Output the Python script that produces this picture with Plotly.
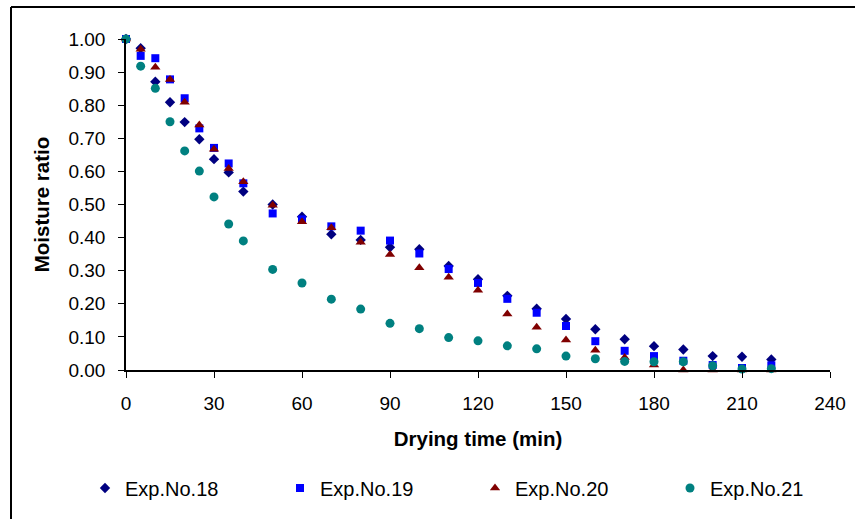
import plotly.graph_objects as go

# ---- data ----
time_min = [0, 5, 10, 15, 20, 25, 30, 35, 40, 50, 60, 70, 80, 90, 100, 110,
            120, 130, 140, 150, 160, 170, 180, 190, 200, 210, 220]

exp18 = [1.00, 0.972, 0.871, 0.809, 0.749, 0.697, 0.637, 0.597, 0.539, 0.500,
         0.463, 0.410, 0.393, 0.371, 0.365, 0.314, 0.274, 0.224, 0.185, 0.154,
         0.123, 0.093, 0.072, 0.062, 0.042, 0.040, 0.032]
exp19 = [1.00, 0.949, 0.942, 0.878, 0.821, 0.730, 0.671, 0.624, 0.564, 0.473,
         0.455, 0.434, 0.421, 0.391, 0.352, 0.305, 0.263, 0.215, 0.173, 0.133,
         0.087, 0.058, 0.042, 0.028, 0.015, 0.006, 0.014]
exp20 = [1.00, 0.969, 0.915, 0.878, 0.809, 0.740, 0.667, 0.609, 0.569, 0.498,
         0.448, 0.430, 0.386, 0.349, 0.309, 0.280, 0.241, 0.169, 0.129, 0.091,
         0.060, 0.038, 0.015, 0.000, 0.000, 0.000, 0.000]
exp21 = [1.00, 0.918, 0.851, 0.750, 0.662, 0.601, 0.523, 0.441, 0.390, 0.304,
         0.263, 0.214, 0.184, 0.141, 0.125, 0.098, 0.088, 0.073, 0.064, 0.042,
         0.034, 0.026, 0.025, 0.025, 0.013, 0.003, 0.004]

series_names = ["Exp.No.18", "Exp.No.19", "Exp.No.20", "Exp.No.21"]
x_ticks = [0, 30, 60, 90, 120, 150, 180, 210, 240]
y_ticks = [0.0, 0.1, 0.2, 0.3, 0.4, 0.5, 0.6, 0.7, 0.8, 0.9, 1.0]

# ---- styles ----
styles = [
    dict(symbol="diamond", color="#000080", size=8),
    dict(symbol="square", color="#0000FF", size=8),
    dict(symbol="triangle-up", color="#800000", size=9),
    dict(symbol="circle", color="#008080", size=9),
]

FONT = "Liberation Sans, Arial, sans-serif"
W, H = 855, 519
L, R, T, B = 126, 25, 39, 149
PW, PH = W - L - R, H - T - B

def px_to_paper_x(px):
    return (px - L) / PW

def px_to_paper_y(py):
    return (H - B - py) / PH

fig = go.Figure()
for name, ys, st in zip(series_names, [exp18, exp19, exp20, exp21], styles):
    fig.add_trace(go.Scatter(
        x=time_min, y=ys, name=name, mode="markers",
        marker=dict(symbol=st["symbol"], color=st["color"], size=st["size"],
                    line=dict(width=0)),
        cliponaxis=False,
    ))

fig.update_layout(
    width=W, height=H,
    margin=dict(l=L, r=R, t=T, b=B, pad=0, autoexpand=False),
    paper_bgcolor="white", plot_bgcolor="white",
    font=dict(family=FONT, size=19, color="black"),
    showlegend=True,
    legend=dict(
        orientation="h",
        x=px_to_paper_x(85), xanchor="left",
        y=px_to_paper_y(488), yanchor="middle",
        entrywidth=150, entrywidthmode="pixels",
        font=dict(family=FONT, size=20, color="black"),
        itemsizing="trace",
        bgcolor="rgba(0,0,0,0)",
    ),
    xaxis=dict(
        range=[0, 240], tickvals=x_ticks, ticktext=[str(v) for v in x_ticks],
        showgrid=False, zeroline=False,
        showline=True, linecolor="black", linewidth=1.5,
        ticks="outside", ticklen=6, tickcolor="black", tickwidth=1,
        ticklabelstandoff=9,
        tickfont=dict(family=FONT, size=19),
        title=dict(text="<b>Drying time (min)</b>", standoff=19,
                   font=dict(family=FONT, size=20.5)),
    ),
    yaxis=dict(
        range=[0, 1], tickvals=y_ticks, ticktext=["%.2f" % v for v in y_ticks],
        showgrid=False, zeroline=False,
        showline=True, linecolor="black", linewidth=1.5,
        ticks="outside", ticklen=6, tickcolor="black", tickwidth=1,
        ticklabelstandoff=9,
        tickfont=dict(family=FONT, size=19),
        title=dict(text="<b>Moisture ratio</b>", standoff=13,
                   font=dict(family=FONT, size=20.5)),
    ),
    shapes=[
        dict(type="line", xref="paper", yref="paper",
             x0=px_to_paper_x(11), x1=px_to_paper_x(11),
             y0=px_to_paper_y(7), y1=px_to_paper_y(530),
             line=dict(color="black", width=2)),
        dict(type="line", xref="paper", yref="paper",
             x0=px_to_paper_x(11), x1=px_to_paper_x(870),
             y0=px_to_paper_y(7), y1=px_to_paper_y(7),
             line=dict(color="black", width=2)),
    ],
)

fig.write_html("out.html")
